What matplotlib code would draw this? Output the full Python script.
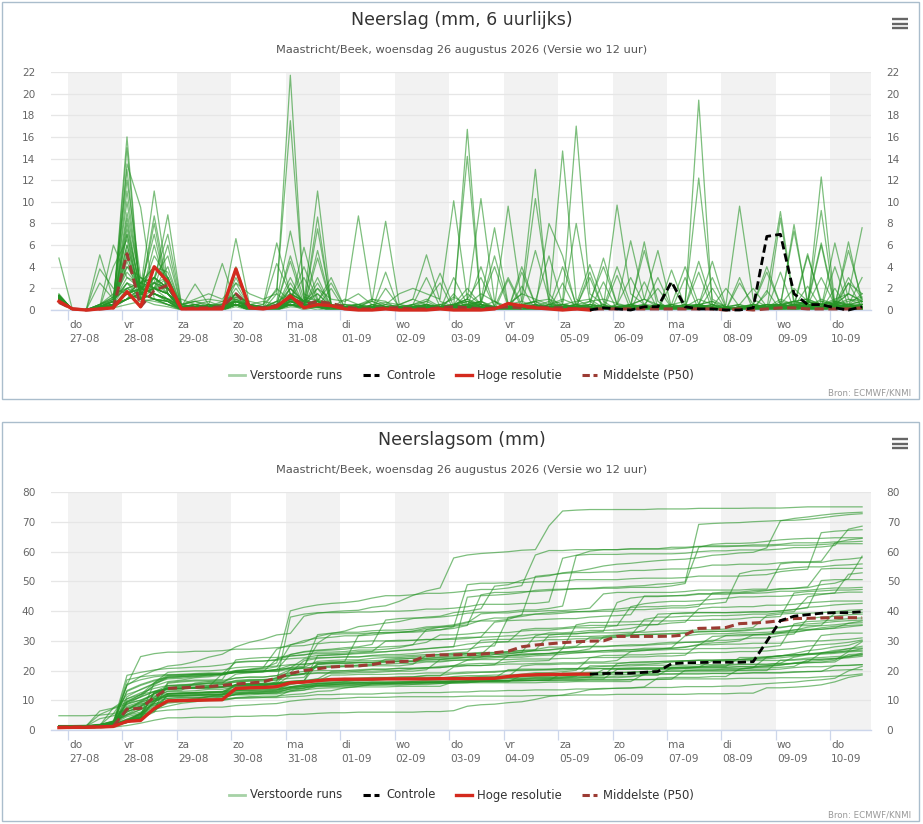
import numpy as np
import matplotlib
matplotlib.use("Agg")
import matplotlib.pyplot as plt
from matplotlib.lines import Line2D
from matplotlib.patches import Rectangle
import matplotlib.transforms as mtransforms

plt.rcParams['font.family'] = ['DejaVu Sans']

# ---------------- data ----------------
DAY_NAMES = ["do", "vr", "za", "zo", "ma", "di", "wo", "do", "vr", "za", "zo", "ma", "di", "wo", "do"]
DAY_DATES = ["27-08", "28-08", "29-08", "30-08", "31-08", "01-09", "02-09", "03-09",
             "04-09", "05-09", "06-09", "07-09", "08-09", "09-09", "10-09"]
# forecast times: hours relative to do 27-08 00:00 (local), every 6 hours
HOURS = np.arange(-4, 356, 6)

# 6-hourly precipitation (mm) for the 50 perturbed ensemble members ("Verstoorde runs")
MEMBERS_6H = [
    "1.3 | 0 0 0.5 1.2 | 12 3 2 1.5 | 0.5 1 1.5 1 | 2.5 1.5 1 1.5 | 0.5 5.8 1 0.5 | 0.3 0.2 1 0.5 | 1.5 2 1.5 1 | 10.1 1 0.5 0.3 | 0.3 0.5 0.2 8 | 5 0.3 0.2 0 | 0 0 0 0.2 | 0 0 0.2 0 | 0 0 0.1 0 | 0 0.2 0.2 0 | 0 0 0",
    "1.2 | 0 0 0.3 0.8 | 7.5 2 3 1.5 | 0.5 0.8 0.3 0.6 | 1.2 0.8 0.5 6.2 | 1.5 0.8 2 1 | 0.8 1.5 0.5 0.7 | 0.5 1 0.5 0.3 | 1.2 0.5 0.8 7.6 | 0.5 1.5 1 0.5 | 1 0.5 0.8 1 | 0.6 0.3 0.5 0.4 | 0.3 0.2 0.5 0.8 | 0.3 0.5 0.2 1.5 | 9.1 0.8 0.5 0.6 | 0.5 0.3 0.2",
    "1.5 | 0 0.1 0.3 0.5 | 16 1 0.8 0.5 | 0.2 0.3 0.2 0.5 | 0.8 0.3 0.2 0.3 | 0.5 0.3 0.8 0.2 | 0.1 0.3 0.2 0.5 | 0.3 0.2 0.5 0.3 | 0.3 16.7 0.5 0.2 | 0.3 0.5 0.8 0.3 | 0.1 0.2 0.1 0.3 | 0.1 0.3 0.2 0.5 | 0.2 0.5 19.4 0.3 | 0.2 0.1 0.3 0.2 | 0.2 0.1 0.3 0.5 | 0.6 0.5 0.3",
    "1.2 | 0 0 0.3 1 | 3.5 2 3 2 | 0 0.2 0.5 0 | 0.8 0.3 0 1.5 | 21.7 1 0.5 0 | 0 0.2 0 0.3 | 0 0.2 0.5 0 | 0.3 0.5 0.8 0 | 0 0.3 0 0.5 | 14.7 1 0.3 0 | 0 0.2 0 0 | 0 0.2 0.5 0.3 | 0 0.3 0 0 | 0.3 0.5 0 0.2 | 0.5 5.5 1",
    "1.0 | 0 0 0.2 0.5 | 13.5 9.5 1 0.5 | 0 0.3 0 0.2 | 0.5 0 0.2 0.3 | 0.5 0.2 0.8 3 | 0.2 0 0.3 0 | 0.2 0 0.3 0.5 | 1 14.2 0.5 0 | 0.2 0 0.3 0 | 0.2 0.5 0 0 | 0 0.3 0.2 0 | 0 0.2 0.5 0 | 0 0 0.3 0.2 | 1 0.5 0.3 12.3 | 0.5 0.3 0.2",
    "1.3 | 0 0 0.5 1 | 2.5 1.5 3 5 | 0.3 0.5 0.2 0 | 3 0.5 0.2 0.8 | 1.5 0.3 0.5 0 | 0.5 8.7 0.8 0.3 | 0 0.3 0.5 0 | 0.5 1 10.3 0.8 | 0 0.3 0 0.3 | 0.3 0.3 0 0.2 | 0 0.3 0 0 | 0.5 0.8 12.2 1 | 0.3 0 0.2 0.5 | 0.5 0.3 0.2 0 | 0.2 0 0",
    "1.1 | 0 0 0.3 0.8 | 9 2.5 2 1.5 | 0.2 0.5 0.3 0.8 | 1 0.3 0.5 1.8 | 17.5 1.2 0.8 0.5 | 0.3 0.5 1 0.8 | 0 0.3 0.5 0 | 0.3 0.5 0.5 0 | 0.5 0.8 10.3 1.5 | 0 0.3 0 0 | 0 0.2 0 0 | 0 0.3 0.5 0 | 0 0.2 0 0 | 0.3 0 0 0.2 | 0.3 0 0",
    "1.4 | 0 0 0.2 0.5 | 5.5 1.5 2 2 | 0.3 2.4 0.5 0 | 1.2 0.3 0 0.5 | 2 0.8 11 0.5 | 0.3 0 0.5 0.2 | 0 0.3 0.8 0.2 | 0.5 1 0.3 0 | 0.5 1.5 13 0.5 | 0.5 0.3 0 0.2 | 0 0.5 0 0.3 | 0.2 0 0.5 0.8 | 0 0.3 0 0 | 0.5 0.3 0 0.2 | 6.2 1 0.5",
    "1.2 | 0 0 0.3 0.8 | 11 2 1.5 1 | 0.2 0 0.5 0.3 | 0.8 0 0.3 0.5 | 5 1 0.5 0.3 | 0.5 0.3 0.8 8.2 | 0.5 0.2 0 0.3 | 0.5 0.8 0.3 0 | 0.3 0.5 0 0.5 | 0.8 17 1.5 0.5 | 0 0.3 0 0 | 0.5 0 0.3 0.2 | 0 0 0.3 0 | 0.2 0.5 0 0 | 0.3 0 0.2",
    "1.0 | 0 0 0.5 1.5 | 2 1 3 7 | 0.5 0.3 0 0.2 | 6.6 0.5 0.3 0 | 0.5 0.3 1 0 | 0.2 0.5 0 0.3 | 0.5 1 5.1 0.8 | 0.3 0.5 1.5 0.8 | 0 0.5 0.8 0 | 0.3 0.5 0 0.2 | 0 0.5 0 0.3 | 0.3 0 0.5 4.5 | 0.3 0 0.5 0.2 | 0.5 0 0.3 1 | 0.5 1.5 7.6",
    "1.3 | 0 0 0.2 4 | 6.5 1.5 2 2.5 | 0.3 0.5 0.2 0 | 1 0.3 0.2 0.8 | 7.3 1.5 0.8 0.3 | 0.5 0 0.3 0.5 | 0.3 0.5 1 0.3 | 0.5 1 3 0.3 | 0 0.5 0 0.3 | 0 0.3 0.5 4.8 | 0.5 0 0 0 | 0 0.3 0.5 0 | 0 0 0.3 0 | 8.5 0.5 0 0 | 0.8 0.3 0.5",
    "1.1 | 0 0 0.3 0.5 | 15 1 0.5 0.3 | 0 0.3 0.2 0 | 0.5 0.2 0 0.3 | 0.8 0.5 7.5 0.5 | 0 0.3 0.2 0 | 0.2 0 0.3 0 | 0 0.3 0.5 5 | 0.5 0.2 0 0.3 | 0.2 0 0.5 0.3 | 0.2 0.3 6.3 0 | 0 0.3 0.5 0 | 0.2 0 0.3 0.5 | 0.5 0.3 0.5 6 | 0.2 0 0",
    "1.2 | 0 0 0.2 0.5 | 1.5 1 2.5 8.8 | 0.5 0.3 0 0.2 | 0.8 0.3 0 0.5 | 1 4 0.8 0.3 | 0.2 0 0.5 0.3 | 0 0.3 0.5 0.2 | 0.5 0.3 0.8 0.3 | 9.6 0.8 0.3 0.5 | 0.3 0 0.2 0.5 | 0.2 0.5 0.3 0 | 0.3 0 0.5 0.2 | 0.5 9.6 1 0.3 | 0.2 0.5 0.3 0 | 0.5 0.2 0.3",
    "1.3 | 0 0 0.5 1.2 | 10 2 1.5 1 | 0.3 0.5 0.2 0.3 | 0.5 0 0.3 4.3 | 1.5 0.8 0.5 0.2 | 0.3 0.5 0 0.3 | 0.2 0.5 0.8 2.5 | 0 0.3 0.5 0 | 0 0.5 0.3 0 | 0.5 0.3 0 0.2 | 0.5 6.4 1 0.5 | 0.3 0 0.2 0.5 | 0.3 0.5 0 0.2 | 0 0.3 0.5 0 | 0.3 6.3 0.5",
    "1.2 | 0 0 0.3 0.5 | 5 1.5 2 1.5 | 0.3 0 0.5 0.2 | 1 0.5 0.3 0.8 | 0.5 0.3 8.6 0.2 | 0.3 0.5 0.3 0 | 0.5 0.3 0.2 0.5 | 0.3 0.8 0.5 0.3 | 0 4 0.5 0 | 0.2 0.5 0.3 0 | 0 0.3 0 0 | 3.7 0.3 0 0 | 0 0 0.3 0 | 0.3 0.5 0.5 9.2 | 0.3 0 0",
    "1.2 | 0 0 0.2 0.5 | 1 2 11 2.5 | 0.3 0 0.2 0 | 4 0.3 0 0.5 | 1.2 0.5 0.3 0 | 0.2 0.5 0 3.5 | 0 0.3 0.2 0 | 0.5 0.3 0 0.2 | 0.3 0 0.5 0 | 0 0.2 0.5 0.3 | 9.7 1.5 0.5 0 | 0.3 0 0.5 0 | 0 0.3 0 0.2 | 0.5 0 0.3 0.5 | 0.3 0 0.2",
    "1.0 | 0 0 0.2 0.3 | 8 1.5 2 1 | 0 0.3 0 0.2 | 0.5 0 0.3 0.2 | 0.8 0.3 5.5 0.5 | 0 0.2 0 0.3 | 0.2 0 0.5 0 | 0.3 0.5 0.8 4 | 0.3 0 0.2 0.5 | 0 0.3 0 0.2 | 0.3 0.5 5.5 0.8 | 0 0.3 0 0.2 | 0 0.2 0.3 0 | 0.5 0.3 5 0.8 | 0.5 0.3 0",
    "1.3 | 0 0 0.3 0.5 | 1 1.5 8 1.5 | 0 0.2 0.3 0 | 0.5 0.2 0 0.5 | 4.5 0.5 0.3 0 | 0.2 0 0.3 0 | 0 0.5 3 0.3 | 0.2 0 0.3 0 | 0.5 0.3 0 0.2 | 0.5 8 0.8 0 | 0.2 0 0.3 0 | 0 0.2 0 0.3 | 0 0.2 0.5 0 | 0.3 7.9 0.5 0.2 | 0.3 0 0.2",
    "1.2 | 0 0 0.5 1 | 4 3 2.5 2 | 0.3 0 0.5 0.2 | 1.5 0.3 0 0.5 | 1 0.5 3 0.3 | 0 0.3 0 0.2 | 0.3 0 0.5 0.2 | 0.5 0 0.3 0.8 | 0.3 0.5 5.5 1 | 0 0.3 0.5 0 | 0.2 0.5 1 0.3 | 0.5 0.3 4.5 0.5 | 0 0.2 0 0.5 | 0 0.3 0.5 0.3 | 0.3 0 0",
    "1.3 | 0 0 0.3 0.8 | 13 1.5 1 0.5 | 0 0.2 0 0 | 0.8 0.3 0 0.2 | 1 3 0.5 0 | 0.2 0 0.3 0 | 0 0.2 0.3 0 | 0.5 0.3 4 0.3 | 0 0.2 0.5 0 | 0.3 0 0 0.2 | 0.3 0.5 1 5.5 | 0.2 0 0.3 0 | 0 0.2 0 0 | 0.3 0.5 0.8 0.3 | 0.5 0.3 0.2",
    "1.1 | 0 0 0.2 0.5 | 1.5 2 7 1.5 | 0.3 0 0.5 4.3 | 0.5 0 0.3 0 | 0.8 0.3 0.5 0 | 0.2 0.3 0 2 | 0.3 0 0 0.2 | 0.3 0.5 0 0.3 | 0.2 0.5 0.8 5 | 0.5 0 0.3 0 | 0 0.2 0 0.3 | 0.2 0 0.3 0 | 0.3 0 0.5 4 | 0.5 0.3 0 0.2 | 0.3 0.5 0.2",
    "1.2 | 0 0 0.3 0.5 | 8.5 1.5 1 0.8 | 0 0.3 0 0.2 | 0.5 0 0.2 0.3 | 3 0.5 0.3 0 | 0 0.2 0 0.3 | 0.2 0 0.5 3.4 | 0.3 0.5 0.2 0 | 0.3 0 0.5 0.2 | 0.5 0.3 0 0.2 | 0.3 0 0.5 0 | 0 0.3 1 0.5 | 0.2 0.5 2 0.3 | 0.5 0.8 1 0.5 | 0.3 0.5 0.2",
    "1.3 | 0 0 2.5 1 | 2 2.5 3 2 | 0.5 0.3 0 0.2 | 0.8 0.5 0.3 0 | 0.5 0.3 4.8 0.5 | 0 0.3 0 0.2 | 0.2 0.5 0 0.3 | 0.5 0.8 0.3 0 | 0.2 0.5 0.3 0.8 | 0 0.3 3 0 | 0.2 0.5 0.3 0 | 0.3 0 0.5 0.2 | 0 0.3 0.5 0.3 | 0.3 0.5 0 0.2 | 4 0.3 0",
    "1.1 | 0 0 0.2 0.3 | 1.5 1 6 1.5 | 0 0.3 0 0 | 3.5 0.3 0 0.2 | 0.5 0.3 0.5 0 | 0.2 0 0.3 0 | 0 0.2 0.3 0 | 3 0.5 0 0.2 | 0.3 0 0.2 0 | 0.2 0 0.3 0 | 0.5 3 0.5 0 | 0.2 0 0.3 0 | 0 0.2 0 0.3 | 0.5 7.3 0.8 0.2 | 0.3 0.5 0.2",
    "1.2 | 0 0 0.3 0.8 | 7 2 1.5 1 | 0.3 0 0.2 0.3 | 0.5 0.2 0 0.3 | 0.5 0.3 0.8 2.5 | 0.2 0 0.5 0 | 0.3 0 0.2 0.5 | 0.3 0.5 0.2 0 | 0.5 0.3 0 0.2 | 4 0.5 0.3 0 | 0.2 0.3 0 0.5 | 0.3 0 0.2 0.5 | 0 0.3 0.5 0 | 0.8 0.5 5.2 0.5 | 0.3 0.5 0.2",
    "1.0 | 0 0 0.2 0.5 | 1 1.5 8.7 2 | 0 0.3 0.5 0 | 0.5 0.2 0 0.3 | 2.5 0.5 0.3 0 | 0 0.3 0.2 0 | 0.3 0 0.2 0 | 0.5 0.2 0 0.3 | 3 0.5 0.2 0 | 0.3 0 0.2 0.5 | 0 0.3 0 0.2 | 0.5 4 0.5 0.2 | 0 0.3 0 0.2 | 0.3 0.5 0.2 0 | 0.3 0.5 0.5",
    "1.3 | 0 0 0.5 0.8 | 6 1.5 2 1.5 | 0.3 0.2 0 0.3 | 0.8 0.3 0.2 2 | 0.8 0.5 0.3 0 | 0.2 0.3 0 0.2 | 0 0.5 0.3 0.2 | 0.5 2 0.5 0.3 | 0.2 0 0.5 0.2 | 0.3 0.5 0.2 0 | 0.2 0 0.3 0.5 | 0.3 0.5 0.5 3 | 0.2 0 0.3 0 | 0.5 0.3 0.8 0.3 | 0.5 1.5 0.8",
    "1.2 | 0 0 0.3 6 | 3 2 1.5 1 | 0.3 0 0.5 0.2 | 0.5 0.3 0 0.5 | 1 0.5 2.5 0.3 | 0 0.2 0.3 0 | 0.3 0 0.5 0 | 0.5 0.3 0.8 0.2 | 0.3 0.5 0 0.3 | 0.5 0.2 0.8 4 | 0.5 0.3 0 0.2 | 0 0.5 0.3 0 | 0.2 0 0.3 0.5 | 0.3 0.8 0.5 0.3 | 0.5 0.3 0.2",
    "1.1 | 0 0 0.2 0.5 | 1 1.5 5 3 | 0 0.3 0.2 0 | 2.5 0.3 0 0.2 | 0.5 0.3 0 0.2 | 0 0.2 0 0 | 0.3 0 0.2 0 | 0.2 0 0.3 0 | 0 3.5 0.5 0 | 0.2 0 0.3 0 | 0 0.2 0 0.3 | 0 0.3 0.2 0 | 0 0.2 0 0.3 | 0.3 0.5 0.8 6.2 | 0.5 0.3 0",
    "1.2 | 0 0 0.3 0.5 | 7 1 1.5 0.8 | 0 0.2 0 0.3 | 0.5 0 0.2 0 | 2 0.5 0.3 0 | 0.2 0 0.3 0.2 | 0 0.3 0 0.2 | 0.5 0.3 0 0.2 | 0 0.3 0.5 0 | 0.3 0.5 4.2 0.8 | 0 0.2 0 0.3 | 0.2 0 0.3 0 | 0 0.3 0 0.2 | 0.5 0.3 0.8 0.5 | 0.3 0.5 0.8",
    "1.4 | 0 0 3.8 2 | 1.5 2.5 4 2.5 | 0.3 0.5 0.2 0 | 0.8 0.3 0 0.5 | 0.5 0.3 2 0.3 | 0.2 0 0.5 0.3 | 0 0.3 0.2 0 | 0.5 0.3 0 0.2 | 0.3 0 0.5 0.3 | 0.5 0.3 0.2 0 | 0.3 0 0.2 0.3 | 0.2 0.5 0 0.3 | 2 0.3 0 0.2 | 0.5 0.3 0.5 0.8 | 0.5 0.3 0.2",
    "1.0 | 0 0 0.2 0.3 | 1 1.5 2 6 | 0.2 0 0.3 0 | 0.5 0.2 0 0.3 | 0.8 0.3 0.5 0 | 0 0.2 0.3 0 | 0.2 0 0.3 0 | 0 0.5 0.3 0.2 | 0.3 0 0.2 0 | 0.2 0.3 0 0.2 | 4 0.5 0.2 0 | 0.3 0 0.2 0 | 0 0.2 0.5 0.3 | 0.5 0.3 0.2 0.5 | 0.8 0.5 0.3",
    "1.2 | 0 0 0.3 0.5 | 6 1.5 1 0.8 | 0.2 0 0.3 0 | 1.5 0.2 0 0.3 | 0.5 0.3 0.2 0 | 0 0.3 0 0.2 | 0.2 0 0.3 0 | 0.3 0 0.2 0.3 | 0 0.5 0.2 0 | 0.2 0 0.3 0 | 0.3 0 0.5 2 | 0.2 0 0.3 0 | 0 0.2 0 0.3 | 0.3 0.5 0.2 0.3 | 0.5 3 1",
    "1.1 | 0 0 0.2 0.5 | 1.5 2 4 3 | 0.3 0 0.2 0 | 0.8 0.3 0 0.2 | 0.5 0.3 0.8 0 | 0.2 0 0.3 0 | 0 0.2 0.3 0 | 0.3 0.5 0 0.2 | 0.2 0 0.3 0 | 0.5 0.3 0 0.2 | 0 0.3 0.2 0 | 0.2 0 0.3 0 | 0.3 0 0.5 3.5 | 0.5 0.3 0.2 0 | 0.3 0.5 0.2",
    "1.3 | 0 0 0.3 0.5 | 4 2 2.5 1.5 | 0.2 0.3 0 0.2 | 2 0.3 0.2 0 | 0.5 0.2 0.8 0.3 | 0 0.3 0 0.2 | 0.3 0 0.5 0 | 0.5 0.2 0.3 0 | 0.5 0.3 0 0.2 | 0.2 0 0.5 0.3 | 0.2 0.5 0 0.3 | 0.5 0.3 0.2 0 | 0.3 0 0.2 0.5 | 0.5 0.8 1 0.5 | 0.8 0.5 1.5",
    "1.0 | 0 0 0.2 0.3 | 1 1.5 3 2 | 0.5 0.8 1 0.8 | 1.5 0.5 0.8 0.5 | 0.5 0.3 0.3 2 | 0 0.2 0 0 | 0.2 0 0.3 0 | 0 0.3 0 0.2 | 0.3 0 0.2 0 | 0 0.3 0 0.2 | 0 0.2 0 0 | 0.3 0 0.2 0 | 0 3 0 0.3 | 0.2 0.3 0.5 0.2 | 0.3 0.5 3",
    "4.8 | 0 0 0.2 0.5 | 1.5 1 2 1.5 | 0.2 0 0.3 0 | 0.5 0.3 0 0.2 | 0.8 0.3 0.5 0 | 0.2 0 0.3 0 | 0 0.2 0 0.3 | 0.3 0 0.5 0.2 | 0 0.3 0 0.2 | 0.3 0 0.2 0 | 0 0.3 0.5 0 | 2.5 0 0.3 0.5 | 0 0.3 0 0 | 0.5 2 0.8 0.5 | 0.3 0.5 0.3",
    "1.2 | 0 0 0.3 0.8 | 5 1.5 1 0.8 | 0.2 0 0.3 0.2 | 0.5 0 0.3 0 | 0.8 0.5 1.5 0.3 | 0.3 0 0.2 0 | 0 0.3 0 0.2 | 0.5 0.3 0 0 | 0.2 0 0.3 0 | 0 0.3 0 2.6 | 0 0.2 0 0 | 0.3 0 0.2 0 | 0 0.2 0 0.3 | 0.5 0.3 0.5 3 | 0.5 1 0.8",
    "1.3 | 0 0 5.1 1 | 2 2.5 4 3.5 | 0.3 0.2 0 0.3 | 0.8 0.3 0 0.2 | 0.5 0.2 0.3 0 | 0 0.2 0 0.3 | 0 0 0.2 0 | 0.3 0 0.2 0 | 0 0.2 0 0 | 0.2 0 0.3 0 | 0 0.2 0 0.3 | 0 0.3 3.5 0 | 0.2 0 0.3 0 | 0 0.5 0.3 0 | 0.3 0.2 0.5",
    "0.8 | 0 0 0 0.2 | 0.5 0.8 1 0.8 | 0 0.2 0 0 | 0.3 0 0.2 0 | 0.5 0 0.3 0.2 | 0 0.2 0 0 | 0 0 0.2 0 | 0.3 1.5 0.5 0.2 | 0.5 0.3 0.8 1 | 0.5 0.8 1 0.2 | 0.3 0 0.2 0 | 0 0.3 0 0 | 0.2 0 0.5 0.3 | 0.3 0.2 0.5 0.3 | 0.5 2.5 1.5",
    "1.2 | 0 0 0.2 0.5 | 4.5 1 1.5 0.8 | 0 0.3 0 0.2 | 0.5 0 0.2 0 | 0.3 0.2 0.5 0 | 0.2 0 0 0.3 | 0 0.2 0 0 | 0.2 0 0.3 0 | 0.2 0 0.2 0 | 0 0.3 0 0.2 | 0 0.2 0.3 3 | 0.2 0 0 0.3 | 0 2.5 0.5 0.3 | 0.5 0.8 0.5 0.3 | 0.5 0.8 1.2",
    "1.3 | 0 0 0.3 0.5 | 1.5 2 2.5 2 | 0.3 0 0.2 0.5 | 0.8 0.3 0.2 0.3 | 1 0.5 0.8 0.3 | 0.2 0.3 0 0 | 0 0.2 0 0.2 | 0.3 0 0 0 | 0 0.2 0 0 | 2.5 0 0.2 0 | 0 0 0.2 0 | 0.2 0 0 0 | 0 0.2 0 0 | 3.5 0 0.3 0 | 0.2 0.3 0.5",
    "1.1 | 0 0 0.2 0.3 | 1 3 2 4 | 0.2 0 0.3 0 | 0.5 0.2 0 0.2 | 1.5 0.8 0.5 0 | 0 0.2 0 0 | 0.2 0 0 0 | 0 0.3 0 0 | 0.2 0 0 0.2 | 0 0 0.3 0 | 3.2 0 0 0 | 0 0.2 0 0 | 0 0 0.3 0 | 0.2 0.3 2.2 0.2 | 0.3 0.5 0.8",
    "1.2 | 0 0 0.3 0.8 | 3 2.5 2 1.5 | 0 0.3 0 0.2 | 1.5 0.5 0.2 0.3 | 1 0.8 0.5 0.2 | 0 0.2 0 0 | 0 0 0.2 0 | 0.3 0 0 0 | 2.8 0.2 0 0 | 0.2 0 0 0 | 0 0 0.2 0 | 0 0.3 0 2 | 0 0 0.2 0 | 0 0.3 0.5 0.2 | 0.3 0.2 0.3",
    "1.0 | 0 0 0.2 0.3 | 1 1.5 2.5 3 | 0.2 0 0.2 0 | 0.8 0.3 0 0.2 | 2 0.8 1.5 0.3 | 0.5 0.5 0.3 0.2 | 0 0.2 0 0 | 0.2 0 0 0 | 0.2 0 0 0 | 0 0.2 3.5 0 | 0 0 0.2 0 | 0 0 0.2 0 | 0 0.2 0 0 | 0.2 0 0.3 0 | 0.2 2.5 0.2",
    "1.3 | 0 0 0.2 0.5 | 2.5 1 1.5 1 | 1 0.5 0.8 0.3 | 1.5 0.5 0.3 0.5 | 1 0.8 0.5 0.2 | 0.2 0 0 0 | 0 0.2 0 0 | 0 0.2 0 0 | 0 0 0.2 0 | 0.2 0 0 0 | 0 0 0 0.2 | 0 3 0 0 | 0 0 0.2 0 | 0.2 0.5 0.3 0 | 0.3 0.2 0.2",
    "1.1 | 0 0 0.3 0.5 | 1 2 2 3 | 0.3 0 0.2 0 | 0.5 0.3 0.2 0 | 0.5 0.3 0.8 0.2 | 1 0.5 0.8 0.3 | 0 0.2 0 0 | 0.2 0 0 0 | 0 2.2 0 0 | 0 0 0.2 0 | 0 0.2 0 0 | 0 0 0 0.2 | 0 0 0.2 0 | 0 0.2 0.3 0 | 2 0 0.3",
    "1.2 | 0 0 0.2 0.3 | 2 1.5 1 0.5 | 0.2 0.5 0.3 0 | 0.5 0.2 0.3 0.2 | 0.8 0.5 0.3 0 | 0.2 0.3 0 0 | 0.2 0 0 0 | 0 0.2 0 0 | 0 0 0.2 0 | 0 0.2 0 0 | 0.2 0 0 0 | 0 0 0.2 0 | 0 0.2 0 1.8 | 0 0.2 0.3 0.5 | 1 1.5 0.8",
    "1.0 | 0 0 0.2 0.5 | 1.5 2.5 3 2 | 0.3 0 0.2 0 | 0.8 0.3 0 0.2 | 1.5 0.8 0.5 0 | 0.2 0 0 0 | 0 0 0.2 0 | 0 0.2 0 0 | 0 0 0 0.2 | 0 0.2 0 0 | 0 0 2.6 0 | 0 0.2 0 0 | 0 0 0.2 0 | 0 0.3 0 0.2 | 0.3 0.2 0",
    "1.3 | 0 0 0.3 0.8 | 2.5 2 1.5 1 | 0.5 0.8 0.5 0.5 | 0.5 0.2 0 0 | 0.8 0.3 0.5 0.2 | 0 0.3 0 0 | 0.2 0 0 0 | 1.5 0 0.2 0 | 0.2 0 0 0 | 0 0 0.2 0 | 0 0.2 0 0 | 0.2 0 0 0 | 0 0.2 0 0 | 0.2 0 0 0.3 | 0.2 0.3 0.5",
]

# high-resolution run ("Hoge resolutie"), 6-hourly, first 40 time steps
HRES_6H = [0.8, 0.1, 0, 0.1, 0.2, 1.7, 0.3, 4.0, 2.6, 0.1, 0.1, 0.1, 0.1, 3.8, 0.2, 0.1, 0.3,
           1.3, 0.2, 0.5, 0.4, 0.1, 0, 0, 0.1, 0, 0, 0, 0.1, 0, 0, 0, 0.1, 0.6, 0.4, 0.2, 0.1,
           0, 0.1, 0]
# control run ("Controle"), 6-hourly, continuing from time step 39
CONTROL_6H = [0, 0.2, 0.1, 0, 0.3, 0.3, 2.6, 0.3, 0.1, 0.1, 0, 0, 0.2, 6.8, 7.0, 1.5, 0.5, 0.5,
              0.2, 0, 0.3]
# median ("Middelste (P50)"), 6-hourly values and running sum
P50_6H = [0.7, 0.1, 0, 0.1, 0.2, 5.2, 0.3, 1.8, 2.3, 0.1, 0.2, 0.2, 0.3, 1.5, 0.3, 0.2, 0.4,
          1.2, 0.5, 0.8, 0.6, 0.3, 0.1, 0.1, 0.2, 0.2, 0.1, 0.1, 0.2, 0.3, 0.2, 0.1, 0.2, 0.3,
          0.2, 0.3, 0.2, 0.2, 0.1, 0.1, 0.1, 0.1, 0.1, 0.1, 0.1, 0.1, 0.1, 0.1, 0.1, 0, 0.1, 0,
          0.1, 0.2, 0.2, 0.1, 0.1, 0.1, 0.1, 0.2]
P50_SUM = [1.0, 1.0, 1.0, 1.1, 1.3, 7.0, 7.3, 11.0, 14.0, 14.2, 14.4, 14.6, 15.0, 15.5, 15.8,
           16.2, 17.5, 19.0, 20.0, 20.6, 21.2, 21.5, 21.6, 22.0, 22.8, 23.0, 23.2, 25.0, 25.3,
           25.3, 25.4, 25.5, 26.0, 26.5, 28.0, 28.6, 29.0, 29.4, 29.7, 29.9, 30.0, 31.5, 31.5,
           31.5, 31.5, 31.6, 32.0, 34.2, 34.3, 34.5, 35.8, 36.0, 36.3, 36.8, 37.5, 37.6, 37.7,
           37.8, 37.8, 37.8]

LEGEND_LABELS = ["Verstoorde runs", "Controle", "Hoge resolutie", "Middelste (P50)"]
SUBTITLE = "Maastricht/Beek, woensdag 26 augustus 2026 (Versie wo 12 uur)"

# ---------------- derived arrays ----------------
members = np.array([[float(v) for v in row.replace("|", " ").split()] for row in MEMBERS_6H])
t = HOURS / 24.0
hres = np.array(HRES_6H)
n_h = len(hres)
ctrl = np.array(CONTROL_6H)
t_h = t[:n_h]
t_c = t[n_h - 1:n_h - 1 + len(ctrl)]
hres_sum = np.cumsum(hres)
ctrl_sum = hres_sum[-1] + np.cumsum(ctrl)
members_sum = np.cumsum(members, axis=1)

# ---------------- styling ----------------
W, H = 923, 824
GREEN = (0.15, 0.58, 0.15)
RED = '#d42a1e'
BROWN = '#9c3b33'
GRID = '#e6e6e6'
BAND = '#f2f2f2'
AXC = '#ccd6eb'

fig = plt.figure(figsize=(W / 100, H / 100), dpi=100)
fig.patch.set_facecolor('white')


def fx(px):
    return px / W


def fy(py):
    return 1 - py / H


def panel(top, bottom, ax_top, ax_bottom, title, ymax, ystep, series_fn):
    # border box
    fig.patches.append(Rectangle((fx(1.5), fy(bottom)), fx(918.5) - fx(1.5), fy(top) - fy(bottom),
                                 transform=fig.transFigure, fill=False, edgecolor='#aabdcc',
                                 lw=1.0))
    fig.text(fx(461.5), fy(top + 18), title, ha='center', va='center', fontsize=12.5,
             color='#333333')
    fig.text(fx(461.5), fy(top + 48), SUBTITLE, ha='center', va='center', fontsize=8.2,
             color='#555555')
    # hamburger icon
    for dy in (17, 21.5, 26):
        fig.lines.append(Line2D([fx(892), fx(908)], [fy(top + dy)] * 2, transform=fig.transFigure,
                                color='#666666', lw=1.7, solid_capstyle='butt'))
    ax = fig.add_axes([fx(51), fy(ax_bottom), fx(871) - fx(51), fy(ax_top) - fy(ax_bottom)])
    ax.set_xlim(-0.3122, 14.747)
    ax.set_ylim(0, ymax)
    for d in range(0, 15, 2):
        ax.axvspan(d, d + 1, color=BAND, lw=0, zorder=0.1)
    ax.set_yticks(np.arange(0, ymax + 0.1, ystep))
    ax.yaxis.grid(True, color=GRID, lw=0.9)
    ax.set_axisbelow(True)
    ax.tick_params(axis='y', length=0, labelleft=True, labelright=True, labelsize=7.6,
                   labelcolor='#666666', pad=11.3)
    ax.set_xticks(range(15))
    ax.tick_params(axis='x', length=7, width=0.9, color=AXC, labelbottom=False)
    for s in ('top', 'left', 'right'):
        ax.spines[s].set_visible(False)
    ax.spines['bottom'].set_color(AXC)
    ax.spines['bottom'].set_linewidth(1.0)
    ax.set_facecolor('white')
    trans = mtransforms.blended_transform_factory(ax.transData, fig.transFigure)
    for d in range(15):
        ax.text(d + 0.018, fy(ax_bottom + 15), DAY_NAMES[d], transform=trans, ha='left',
                va='center', fontsize=7.6, color='#666666')
        ax.text(d + 0.018, fy(ax_bottom + 29), DAY_DATES[d], transform=trans, ha='left',
                va='center', fontsize=7.6, color='#666666')
    series_fn(ax)
    # legend
    ly = fy(top + 373)
    items = [(229, 245, 250, dict(color='#a6d2a6', lw=2.0)),
             (363, 379, 386, dict(color='black', lw=2.2, dashes=(2.4, 1.2))),
             (456, 472, 477, dict(color=RED, lw=2.4)),
             (582, 597, 603, dict(color=BROWN, lw=2.2, dashes=(2.4, 1.2)))]
    for (x0, x1, xt, kw), lab in zip(items, LEGEND_LABELS):
        fig.lines.append(Line2D([fx(x0), fx(x1)], [ly, ly], transform=fig.transFigure, **kw))
        fig.text(fx(xt), ly, lab, ha='left', va='center', fontsize=8.4, color='#333333')
    fig.text(fx(911), fy(bottom - 6), "Bron: ECMWF/KNMI", ha='right', va='center',
             fontsize=6.2, color='#999999')
    return ax


def draw_top(ax):
    for m in members:
        ax.plot(t, m, color=GREEN, alpha=0.6, lw=0.9, zorder=2, clip_on=False)
    ax.plot(t, P50_6H, color=BROWN, lw=2.2, dashes=(3, 1.5), zorder=3, clip_on=False)
    ax.plot(t_h, hres, color=RED, lw=2.4, zorder=4, clip_on=False)
    ax.plot(t_c, ctrl, color='black', lw=2.0, dashes=(3, 1.5), zorder=5, clip_on=False)


def draw_bottom(ax):
    for m in members_sum:
        ax.plot(t, m, color=GREEN, alpha=0.6, lw=0.9, zorder=2, clip_on=False)
    ax.plot(t_h, hres_sum, color=RED, lw=2.4, zorder=4, clip_on=False)
    ax.plot(t_c, ctrl_sum, color='black', lw=2.0, dashes=(3, 1.5), zorder=5, clip_on=False)
    ax.plot(t, P50_SUM, color=BROWN, lw=2.2, dashes=(3, 1.5), zorder=3, clip_on=False)


panel(2, 399, 72, 310, "Neerslag (mm, 6 uurlijks)", 22, 2, draw_top)
panel(422, 821, 492.3, 730, "Neerslagsom (mm)", 80, 10, draw_bottom)

fig.savefig("out.png", dpi=100, facecolor='white')
